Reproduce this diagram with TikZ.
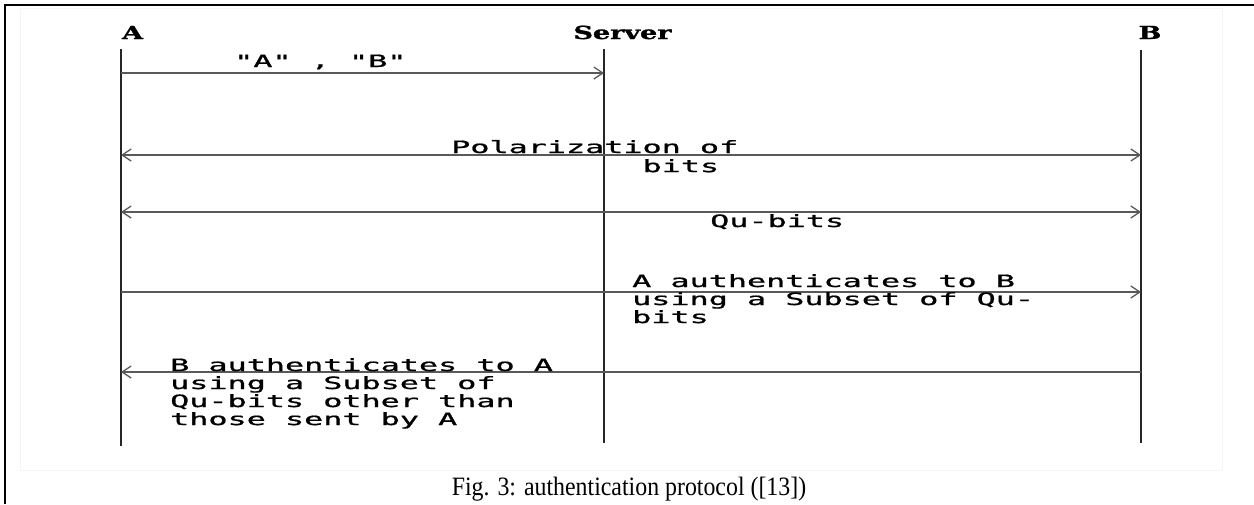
\documentclass[tikz,border=0pt]{standalone}
\usepackage{fontspec}
\usepackage{graphicx}
\usetikzlibrary{arrows.meta}
\setmainfont{Liberation Serif}
\newfontfamily\monofont[FakeBold=0.8]{DejaVu Sans Mono}
\newfontfamily\headfont[FakeBold=1.2]{DejaVu Serif Bold}
\newcommand{\widemono}[1]{\scalebox{1.87}[1]{\begin{tabular}[t]{@{}l@{}}#1\end{tabular}}}
\newcommand{\widehead}[1]{\scalebox{1.5}[1]{#1}}

\begin{document}
\begin{tikzpicture}[x=1pt,y=-1pt,
    >={Straight Barb[length=9pt,width=12pt]},
    lifeline/.style={line width=1.6pt, black!85},
    msgline/.style={line width=1.3pt, black!65},
    head/.style={anchor=base, inner sep=0pt, font=\headfont\fontsize{18}{18}\selectfont},
    msgtext/.style={anchor=base west, inner sep=0pt, font=\monofont\fontsize{17}{17}\selectfont},
    ]
    \useasboundingbox (0,0) rectangle (1254,504);
    % frame
    \draw[line width=2.5pt] (5,504) -- (5,5) -- (1254,5);
    \draw[black!4, line width=1pt] (20,8) rectangle (1222,470);
    % parties
    \node[head] (hA) at (132.5,39) {\widehead{A}};
    \node[head] (hS) at (622.5,39) {\widehead{Server}};
    \node[head] (hB) at (1150,39) {\widehead{B}};
    \coordinate (aTop) at (121,49);  \coordinate (aBot) at (121,446);
    \coordinate (sTop) at (604,49);  \coordinate (sBot) at (604,443);
    \coordinate (bTop) at (1141,50); \coordinate (bBot) at (1141,443);
    \draw[lifeline] (aTop) -- (aBot);
    \draw[lifeline] (sTop) -- (sBot);
    \draw[lifeline] (bTop) -- (bBot);
    % message rows
    \foreach \n/\y in {1/73,2/155,3/212,4/292,5/372} {
        \coordinate (a\n) at (121,\y);
        \coordinate (s\n) at (604,\y);
        \coordinate (b\n) at (1141,\y);
    }
    \draw[msgline,->] (a1) -- (s1);
    \draw[msgline,<->] (a2) -- (b2);
    \draw[msgline,<->] (a3) -- (b3);
    \draw[msgline,->] (a4) -- (b4);
    \draw[msgline,->] (b5) -- (a5);
    % labels
    \node[msgtext] (names) at (234,67) {\widemono{"A" , "B"}};
    \node[msgtext] (polar) at (451,153) {\widemono{Polarization of\\[1pt] \phantom{Polarizati}bits}};
    \node[msgtext] (qubits) at (710,227) {\widemono{Qu-bits}};
    \node[msgtext] (authA) at (632,287) {\widemono{A authenticates to B\\ using a Subset of Qu-\\ bits}};
    \node[msgtext] (authB) at (170,371) {\widemono{B authenticates to A\\ using a Subset of\\ Qu-bits other than\\ those sent by A}};
    % caption
    \node[anchor=base, inner sep=0pt, font=\fontsize{26.5}{26.5}\selectfont] (caption) at (629,495) {\scalebox{0.9}[1]{Fig. 3: authentication protocol ([13])}};
\end{tikzpicture}
\end{document}
